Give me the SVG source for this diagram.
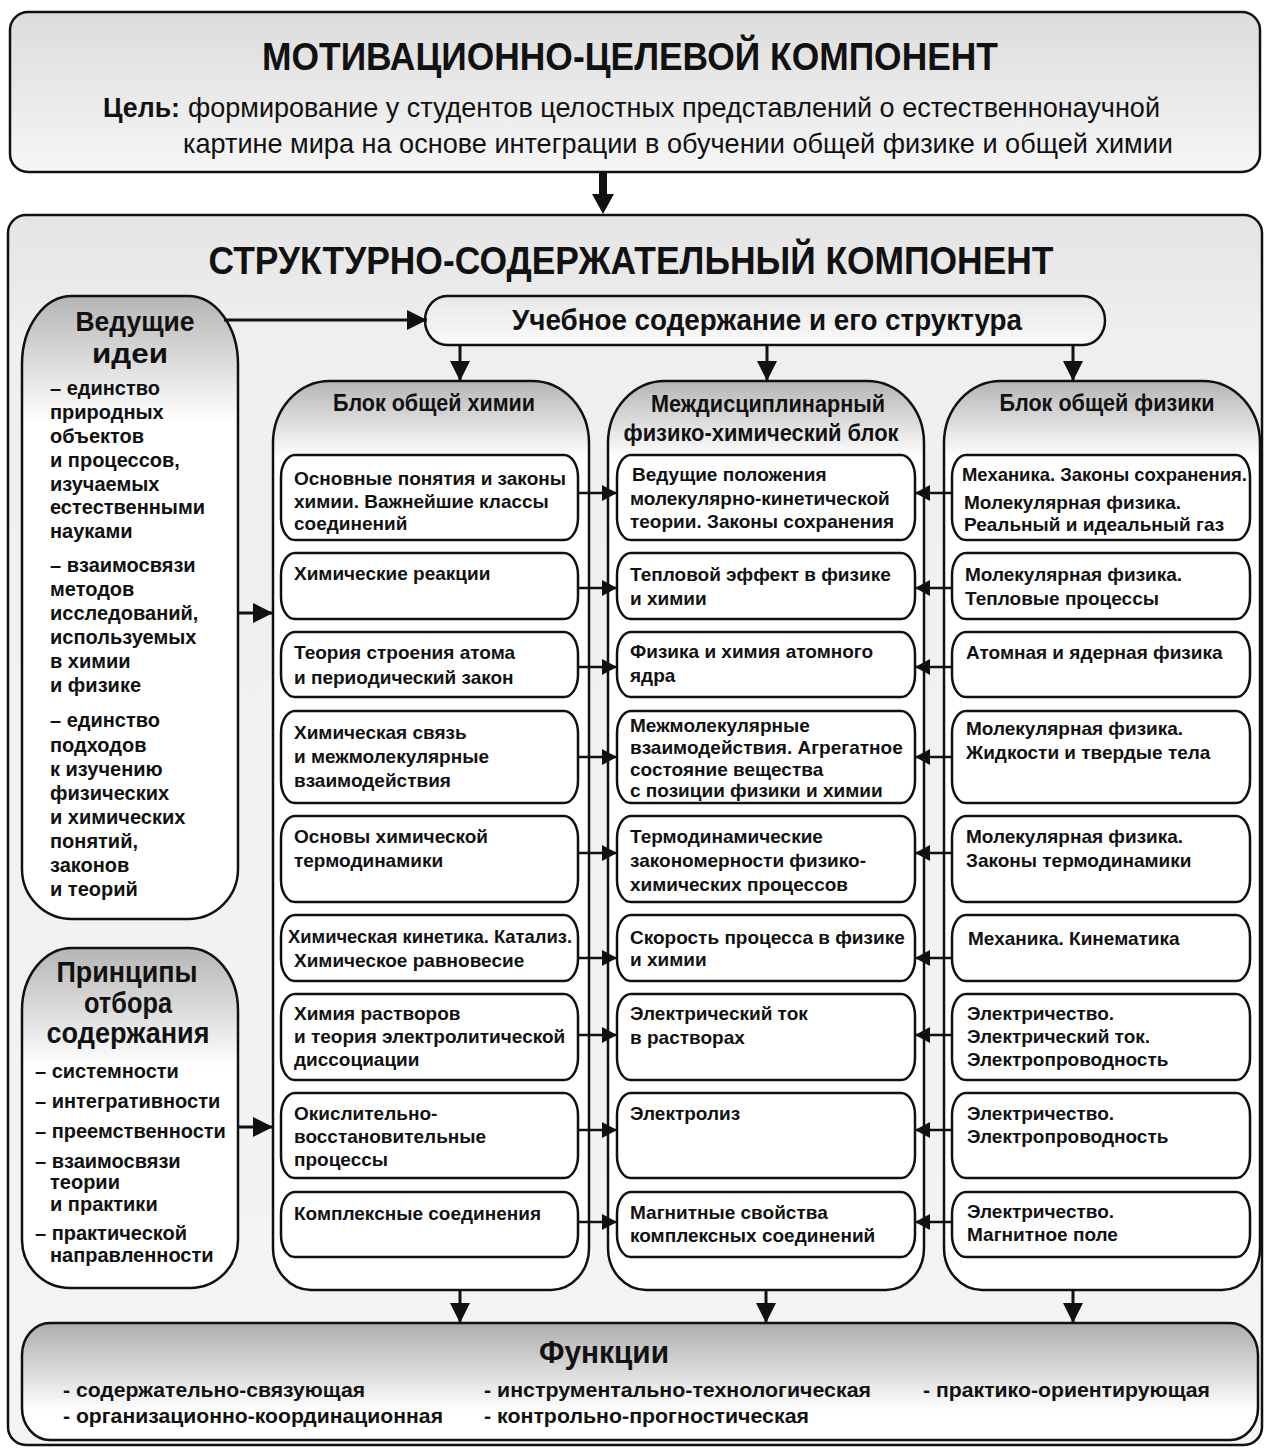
<svg xmlns="http://www.w3.org/2000/svg" width="1264" height="1448" viewBox="0 0 1264 1448">
<defs>
<linearGradient id="gTop" x1="0" y1="0" x2="0" y2="1"><stop offset="0" stop-color="#dcdcdc"/><stop offset="1" stop-color="#f6f6f6"/></linearGradient>
<linearGradient id="gBig" x1="0" y1="0" x2="0" y2="1"><stop offset="0" stop-color="#e4e4e4"/><stop offset="0.1" stop-color="#efefef"/><stop offset="1" stop-color="#f4f4f4"/></linearGradient>
<linearGradient id="gCol" x1="0" y1="0" x2="0" y2="1"><stop offset="0" stop-color="#b5b5b5"/><stop offset="0.085" stop-color="#ffffff"/><stop offset="1" stop-color="#ffffff"/></linearGradient>
<linearGradient id="gLead" x1="0" y1="0" x2="0" y2="1"><stop offset="0" stop-color="#b5b5b5"/><stop offset="0.2" stop-color="#ffffff"/><stop offset="1" stop-color="#ffffff"/></linearGradient>
<linearGradient id="gPrin" x1="0" y1="0" x2="0" y2="1"><stop offset="0" stop-color="#b5b5b5"/><stop offset="0.35" stop-color="#ffffff"/><stop offset="1" stop-color="#ffffff"/></linearGradient>
<linearGradient id="gFun" x1="0" y1="0" x2="0" y2="1"><stop offset="0" stop-color="#adadad"/><stop offset="0.75" stop-color="#ffffff"/><stop offset="1" stop-color="#ffffff"/></linearGradient>
<linearGradient id="gUch" x1="0" y1="0" x2="0" y2="1"><stop offset="0" stop-color="#e8e8e8"/><stop offset="1" stop-color="#fafafa"/></linearGradient>
<marker id="ah" viewBox="0 0 15 16" refX="15" refY="8" markerWidth="15" markerHeight="16" markerUnits="userSpaceOnUse" orient="auto"><path d="M0,0 L15,8 L0,16 Z" fill="#111"/></marker>
<marker id="ahb" viewBox="0 0 20 20" refX="20" refY="10" markerWidth="20" markerHeight="20" markerUnits="userSpaceOnUse" orient="auto"><path d="M0,0 L20,10 L0,20 Z" fill="#111"/></marker>
</defs>
<style>
.box{stroke:#111;stroke-width:2.5;}
.inner{fill:#fff;stroke:#111;stroke-width:2.5;}
.t{font-family:"Liberation Sans",Arial,sans-serif;font-weight:bold;fill:#111;}
.r{font-family:"Liberation Sans",Arial,sans-serif;font-weight:normal;fill:#111;}
.in{font-size:19px;}
.li{font-size:20px;}
.c{text-anchor:middle;}
.ln{stroke:#111;stroke-width:2.5;fill:none;}
.lnb{stroke:#111;stroke-width:3;fill:none;}
</style>

<g id="motivational">
<rect class="box" x="10" y="12" width="1250" height="160" rx="18" ry="18" fill="url(#gTop)"/>
<text class="t c" x="630" y="70" font-size="39" textLength="736" lengthAdjust="spacingAndGlyphs">МОТИВАЦИОННО-ЦЕЛЕВОЙ КОМПОНЕНТ</text>
<text class="t" x="103" y="117" font-size="28" textLength="77" lengthAdjust="spacingAndGlyphs">Цель:</text>
<text class="r" x="188" y="117" font-size="28" textLength="972" lengthAdjust="spacingAndGlyphs">формирование у студентов целостных представлений о естественнонаучной</text>
<text class="r" x="183" y="153" font-size="28" textLength="990" lengthAdjust="spacingAndGlyphs">картине мира на основе интеграции в обучении общей физике и общей химии</text>
</g>

<g id="structural">
<rect class="box" x="8" y="215" width="1254" height="1230" rx="18" ry="18" fill="url(#gBig)"/>
<text class="t c" x="631" y="274" font-size="39" textLength="845" lengthAdjust="spacingAndGlyphs">СТРУКТУРНО-СОДЕРЖАТЕЛЬНЫЙ КОМПОНЕНТ</text>
</g>

<g id="leading-ideas">
<path class="box" fill="url(#gLead)" d="M72,296 H188 A50 68 0 0 1 238,364 V869 A50 50 0 0 1 188,919 H72 A50 50 0 0 1 22,869 V364 A50 68 0 0 1 72,296 Z"/>
<text class="t c" x="135" y="331" font-size="28" textLength="119" lengthAdjust="spacingAndGlyphs">Ведущие</text>
<text class="t c" x="130" y="363" font-size="28" textLength="76" lengthAdjust="spacingAndGlyphs">идеи</text>
<g class="t li">
<text x="50" y="395">– единство</text>
<text x="50" y="419">природных</text>
<text x="50" y="443">объектов</text>
<text x="50" y="467">и процессов,</text>
<text x="50" y="491">изучаемых</text>
<text x="50" y="514">естественными</text>
<text x="50" y="538">науками</text>
<text x="50" y="572">– взаимосвязи</text>
<text x="50" y="596">методов</text>
<text x="50" y="620">исследований,</text>
<text x="50" y="644">используемых</text>
<text x="50" y="668">в химии</text>
<text x="50" y="692">и физике</text>
<text x="50" y="727">– единство</text>
<text x="50" y="752">подходов</text>
<text x="50" y="776">к изучению</text>
<text x="50" y="800">физических</text>
<text x="50" y="824">и химических</text>
<text x="50" y="848">понятий,</text>
<text x="50" y="872">законов</text>
<text x="50" y="896">и теорий</text>
</g>
</g>

<g id="principles">
<path class="box" fill="url(#gPrin)" d="M72,948 H188 A50 62 0 0 1 238,1010 V1240 A48 48 0 0 1 190,1288 H70 A48 48 0 0 1 22,1240 V1010 A50 62 0 0 1 72,948 Z"/>
<text class="t c" x="127" y="982" font-size="29" textLength="141" lengthAdjust="spacingAndGlyphs">Принципы</text>
<text class="t c" x="128" y="1013" font-size="29" textLength="88" lengthAdjust="spacingAndGlyphs">отбора</text>
<text class="t c" x="128" y="1043" font-size="29" textLength="163" lengthAdjust="spacingAndGlyphs">содержания</text>
<g class="t li">
<text x="35" y="1078">– системности</text>
<text x="35" y="1108">– интегративности</text>
<text x="35" y="1138">– преемственности</text>
<text x="35" y="1168">– взаимосвязи</text>
<text x="50" y="1189">теории</text>
<text x="50" y="1211">и практики</text>
<text x="35" y="1240">– практической</text>
<text x="50" y="1262">направленности</text>
</g>
</g>

<g id="content">
<rect class="box" x="425" y="296" width="680" height="49" rx="22" ry="24.5" fill="url(#gUch)"/>
<text class="t c" x="767" y="330" font-size="30" textLength="510" lengthAdjust="spacingAndGlyphs">Учебное содержание и его структура</text>
</g>

<g id="chem-block">
<path class="box" fill="url(#gCol)" d="M330,381 H532 A57 62 0 0 1 589,443 V1248 A38 42 0 0 1 551,1290 H311 A38 42 0 0 1 273,1248 V443 A57 62 0 0 1 330,381 Z"/>
<text class="t c" x="434" y="411" font-size="23" textLength="202" lengthAdjust="spacingAndGlyphs">Блок общей химии</text>
</g>
<g id="inter-block">
<path class="box" fill="url(#gCol)" d="M665,381 H867 A57 62 0 0 1 924,443 V1248 A38 42 0 0 1 886,1290 H646 A38 42 0 0 1 608,1248 V443 A57 62 0 0 1 665,381 Z"/>
<text class="t c" x="768" y="412" font-size="23" textLength="234" lengthAdjust="spacingAndGlyphs">Междисциплинарный</text>
<text class="t c" x="761" y="441" font-size="23" textLength="275" lengthAdjust="spacingAndGlyphs">физико-химический блок</text>
</g>
<g id="phys-block">
<path class="box" fill="url(#gCol)" d="M1001,381 H1203 A57 62 0 0 1 1260,443 V1248 A38 42 0 0 1 1222,1290 H982 A38 42 0 0 1 944,1248 V443 A57 62 0 0 1 1001,381 Z"/>
<text class="t c" x="1107" y="411" font-size="23" textLength="215" lengthAdjust="spacingAndGlyphs">Блок общей физики</text>
</g>

<!-- chemistry items -->
<g id="chem-1"><rect class="inner" x="281" y="455" width="297" height="85" rx="14" ry="22"/>
<text class="t in" x="294" y="485">Основные понятия и законы</text><text class="t in" x="294" y="508">химии. Важнейшие классы</text><text class="t in" x="294" y="530">соединений</text></g>
<g id="chem-2"><rect class="inner" x="281" y="553" width="297" height="66" rx="14" ry="22"/>
<text class="t in" x="294" y="580">Химические реакции</text></g>
<g id="chem-3"><rect class="inner" x="281" y="632" width="297" height="65" rx="14" ry="22"/>
<text class="t in" x="294" y="659">Теория строения атома</text><text class="t in" x="294" y="684">и периодический закон</text></g>
<g id="chem-4"><rect class="inner" x="281" y="711" width="297" height="92" rx="14" ry="22"/>
<text class="t in" x="294" y="739">Химическая связь</text><text class="t in" x="294" y="763">и межмолекулярные</text><text class="t in" x="294" y="787">взаимодействия</text></g>
<g id="chem-5"><rect class="inner" x="281" y="816" width="297" height="86" rx="14" ry="22"/>
<text class="t in" x="294" y="843">Основы химической</text><text class="t in" x="294" y="867">термодинамики</text></g>
<g id="chem-6"><rect class="inner" x="281" y="915" width="297" height="66" rx="14" ry="22"/>
<text class="t in" x="288" y="943" textLength="284" lengthAdjust="spacingAndGlyphs">Химическая кинетика. Катализ.</text><text class="t in" x="294" y="967">Химическое равновесие</text></g>
<g id="chem-7"><rect class="inner" x="281" y="994" width="297" height="86" rx="14" ry="22"/>
<text class="t in" x="294" y="1020">Химия растворов</text><text class="t in" x="294" y="1043">и теория электролитической</text><text class="t in" x="294" y="1066">диссоциации</text></g>
<g id="chem-8"><rect class="inner" x="281" y="1093" width="297" height="85" rx="14" ry="22"/>
<text class="t in" x="294" y="1120">Окислительно-</text><text class="t in" x="294" y="1143">восстановительные</text><text class="t in" x="294" y="1166">процессы</text></g>
<g id="chem-9"><rect class="inner" x="281" y="1192" width="297" height="65" rx="14" ry="22"/>
<text class="t in" x="294" y="1220">Комплексные соединения</text></g>

<!-- interdisciplinary items -->
<g id="inter-1"><rect class="inner" x="617" y="455" width="298" height="85" rx="14" ry="22"/>
<text class="t in" x="632" y="481">Ведущие положения</text><text class="t in" x="630" y="505">молекулярно-кинетической</text><text class="t in" x="630" y="528">теории. Законы сохранения</text></g>
<g id="inter-2"><rect class="inner" x="617" y="553" width="298" height="66" rx="14" ry="22"/>
<text class="t in" x="630" y="581">Тепловой эффект в физике</text><text class="t in" x="630" y="605">и химии</text></g>
<g id="inter-3"><rect class="inner" x="617" y="632" width="298" height="65" rx="14" ry="22"/>
<text class="t in" x="630" y="658">Физика и химия атомного</text><text class="t in" x="630" y="682">ядра</text></g>
<g id="inter-4"><rect class="inner" x="617" y="711" width="298" height="92" rx="14" ry="22"/>
<text class="t in" x="630" y="732">Межмолекулярные</text><text class="t in" x="630" y="754">взаимодействия. Агрегатное</text><text class="t in" x="630" y="776">состояние вещества</text><text class="t in" x="630" y="797">с позиции физики и химии</text></g>
<g id="inter-5"><rect class="inner" x="617" y="816" width="298" height="86" rx="14" ry="22"/>
<text class="t in" x="630" y="843">Термодинамические</text><text class="t in" x="630" y="867">закономерности физико-</text><text class="t in" x="630" y="891">химических процессов</text></g>
<g id="inter-6"><rect class="inner" x="617" y="915" width="298" height="66" rx="14" ry="22"/>
<text class="t in" x="630" y="944">Скорость процесса в физике</text><text class="t in" x="630" y="966">и химии</text></g>
<g id="inter-7"><rect class="inner" x="617" y="994" width="298" height="86" rx="14" ry="22"/>
<text class="t in" x="630" y="1020">Электрический ток</text><text class="t in" x="630" y="1044">в растворах</text></g>
<g id="inter-8"><rect class="inner" x="617" y="1093" width="298" height="85" rx="14" ry="22"/>
<text class="t in" x="630" y="1120">Электролиз</text></g>
<g id="inter-9"><rect class="inner" x="617" y="1192" width="298" height="65" rx="14" ry="22"/>
<text class="t in" x="630" y="1219">Магнитные свойства</text><text class="t in" x="630" y="1242">комплексных соединений</text></g>

<!-- physics items -->
<g id="phys-1"><rect class="inner" x="952" y="455" width="298" height="85" rx="14" ry="22"/>
<text class="t in" x="962" y="481" textLength="285" lengthAdjust="spacingAndGlyphs">Механика. Законы сохранения.</text><text class="t in" x="964" y="509">Молекулярная физика.</text><text class="t in" x="964" y="531">Реальный и идеальный газ</text></g>
<g id="phys-2"><rect class="inner" x="952" y="553" width="298" height="66" rx="14" ry="22"/>
<text class="t in" x="965" y="581">Молекулярная физика.</text><text class="t in" x="965" y="605">Тепловые процессы</text></g>
<g id="phys-3"><rect class="inner" x="952" y="632" width="298" height="65" rx="14" ry="22"/>
<text class="t in" x="966" y="659">Атомная и ядерная физика</text></g>
<g id="phys-4"><rect class="inner" x="952" y="711" width="298" height="92" rx="14" ry="22"/>
<text class="t in" x="966" y="735">Молекулярная физика.</text><text class="t in" x="966" y="759">Жидкости и твердые тела</text></g>
<g id="phys-5"><rect class="inner" x="952" y="816" width="298" height="86" rx="14" ry="22"/>
<text class="t in" x="966" y="843">Молекулярная физика.</text><text class="t in" x="966" y="867">Законы термодинамики</text></g>
<g id="phys-6"><rect class="inner" x="952" y="915" width="298" height="66" rx="14" ry="22"/>
<text class="t in" x="968" y="945">Механика. Кинематика</text></g>
<g id="phys-7"><rect class="inner" x="952" y="994" width="298" height="86" rx="14" ry="22"/>
<text class="t in" x="967" y="1020">Электричество.</text><text class="t in" x="967" y="1043">Электрический ток.</text><text class="t in" x="967" y="1066">Электропроводность</text></g>
<g id="phys-8"><rect class="inner" x="952" y="1093" width="298" height="85" rx="14" ry="22"/>
<text class="t in" x="967" y="1120">Электричество.</text><text class="t in" x="967" y="1143">Электропроводность</text></g>
<g id="phys-9"><rect class="inner" x="952" y="1192" width="298" height="65" rx="14" ry="22"/>
<text class="t in" x="967" y="1218">Электричество.</text><text class="t in" x="967" y="1241">Магнитное поле</text></g>

<g id="functions">
<rect class="box" x="22" y="1323" width="1236" height="117" rx="28" ry="32" fill="url(#gFun)"/>
<text class="t c" x="604" y="1363" font-size="32" textLength="130" lengthAdjust="spacingAndGlyphs">Функции</text>
<text class="t" x="63" y="1397" font-size="21" textLength="302" lengthAdjust="spacingAndGlyphs">- содержательно-связующая</text>
<text class="t" x="63" y="1423" font-size="21" textLength="380" lengthAdjust="spacingAndGlyphs">- организационно-координационная</text>
<text class="t" x="484" y="1397" font-size="21" textLength="387" lengthAdjust="spacingAndGlyphs">- инструментально-технологическая</text>
<text class="t" x="484" y="1423" font-size="21" textLength="325" lengthAdjust="spacingAndGlyphs">- контрольно-прогностическая</text>
<text class="t" x="923" y="1397" font-size="21" textLength="287" lengthAdjust="spacingAndGlyphs">- практико-ориентирующая</text>
</g>

<g id="connectors">
<path d="M599,172 H607 V194 H614 L603,214 L592,194 H599 Z" fill="#111"/>
<line class="lnb" x1="224" y1="320" x2="427" y2="320" marker-end="url(#ahb)"/>
<line class="lnb" x1="460" y1="345" x2="460" y2="381" marker-end="url(#ahb)"/>
<line class="lnb" x1="767" y1="345" x2="767" y2="381" marker-end="url(#ahb)"/>
<line class="lnb" x1="1073" y1="345" x2="1073" y2="381" marker-end="url(#ahb)"/>
<line class="lnb" x1="238" y1="613" x2="273" y2="613" marker-end="url(#ahb)"/>
<line class="lnb" x1="238" y1="1127" x2="273" y2="1127" marker-end="url(#ahb)"/>
<line class="lnb" x1="460" y1="1290" x2="460" y2="1323" marker-end="url(#ahb)"/>
<line class="lnb" x1="766" y1="1290" x2="766" y2="1323" marker-end="url(#ahb)"/>
<line class="lnb" x1="1073" y1="1290" x2="1073" y2="1323" marker-end="url(#ahb)"/>
<line class="ln" x1="578" y1="493" x2="617" y2="493" marker-end="url(#ah)"/>
<line class="ln" x1="578" y1="588" x2="617" y2="588" marker-end="url(#ah)"/>
<line class="ln" x1="578" y1="667" x2="617" y2="667" marker-end="url(#ah)"/>
<line class="ln" x1="578" y1="757" x2="617" y2="757" marker-end="url(#ah)"/>
<line class="ln" x1="578" y1="853" x2="617" y2="853" marker-end="url(#ah)"/>
<line class="ln" x1="578" y1="958" x2="617" y2="958" marker-end="url(#ah)"/>
<line class="ln" x1="578" y1="1035" x2="617" y2="1035" marker-end="url(#ah)"/>
<line class="ln" x1="578" y1="1130" x2="617" y2="1130" marker-end="url(#ah)"/>
<line class="ln" x1="578" y1="1222" x2="617" y2="1222" marker-end="url(#ah)"/>
<line class="ln" x1="952" y1="493" x2="915" y2="493" marker-end="url(#ah)"/>
<line class="ln" x1="952" y1="588" x2="915" y2="588" marker-end="url(#ah)"/>
<line class="ln" x1="952" y1="667" x2="915" y2="667" marker-end="url(#ah)"/>
<line class="ln" x1="952" y1="757" x2="915" y2="757" marker-end="url(#ah)"/>
<line class="ln" x1="952" y1="853" x2="915" y2="853" marker-end="url(#ah)"/>
<line class="ln" x1="952" y1="958" x2="915" y2="958" marker-end="url(#ah)"/>
<line class="ln" x1="952" y1="1035" x2="915" y2="1035" marker-end="url(#ah)"/>
<line class="ln" x1="952" y1="1130" x2="915" y2="1130" marker-end="url(#ah)"/>
<line class="ln" x1="952" y1="1222" x2="915" y2="1222" marker-end="url(#ah)"/>
</g>
</svg>
